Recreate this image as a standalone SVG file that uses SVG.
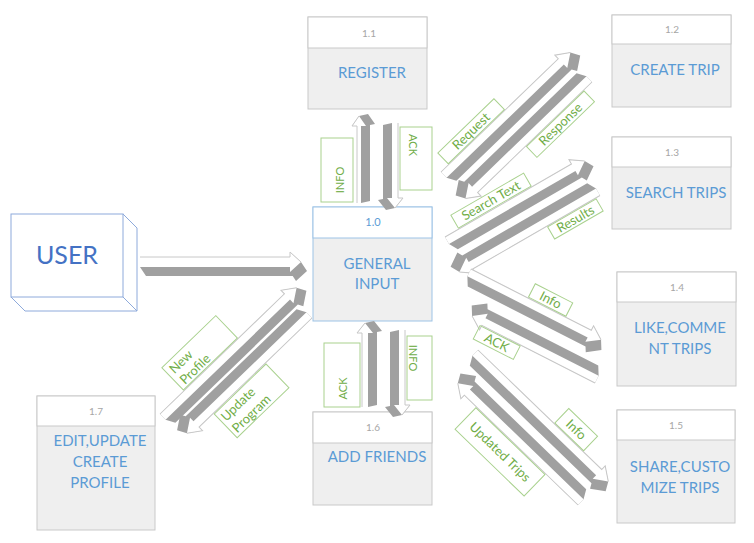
<svg xmlns="http://www.w3.org/2000/svg" width="754" height="543" viewBox="0 0 754 543">
<style>
text{font-family:Lato,'Liberation Sans',sans-serif}
.bx{fill:#efefef;stroke:#c9c9c9;stroke-width:1}
.hd{fill:#fff;stroke:#c9c9c9;stroke-width:1}
.bxb{fill:#efefef;stroke:#9dc3e6;stroke-width:1}
.hdb{fill:#fff;stroke:#9dc3e6;stroke-width:1}
.num{font-size:10px;fill:#a6a6a6;text-anchor:middle}
.t{font-size:15px;fill:#5b9bd5;text-anchor:middle}
.ag{fill:#a0a0a0}
.af{fill:#fff}
.al{fill:none;stroke:#c8c8c8;stroke-width:1}
.lb{fill:none;stroke:#a9d18e;stroke-width:1}
.lt{font-size:13px;fill:#70ad47;text-anchor:middle}
.ls{font-size:13px;fill:#70ad47;text-anchor:start}
.lv{font-size:11px;fill:#70ad47;text-anchor:middle}
</style>
<rect width="754" height="543" fill="#fff"/>

<g id="user">
<rect x="11" y="214" width="112" height="83" fill="#fff" stroke="#8eaadb"/>
<path d="M123,214 L137,228 V311 H25 L11,297 M123,297 L137,311" fill="none" stroke="#8eaadb"/>
<text x="67" y="264" font-size="25" fill="#4472c4" text-anchor="middle">USER</text>
</g>

<g id="n10">
<rect class="bxb" x="313" y="207" width="119" height="114"/>
<rect class="hdb" x="313" y="207" width="119" height="31"/>
<text x="373" y="226" font-size="11" fill="#5b9bd5" text-anchor="middle">1.0</text>
<text class="t" x="377" y="269">GENERAL</text>
<text class="t" x="377" y="289">INPUT</text>
</g>

<g id="n11">
<rect class="bx" x="308" y="17" width="119" height="92"/>
<rect class="hd" x="308" y="17" width="119" height="31"/>
<text class="num" x="369" y="36.5">1.1</text>
<text class="t" x="372" y="78">REGISTER</text>
</g>

<g id="n12">
<rect class="bx" x="612" y="15" width="119" height="92"/>
<rect class="hd" x="612" y="15" width="119" height="29"/>
<text class="num" x="672" y="32.5">1.2</text>
<text class="t" x="675" y="75">CREATE TRIP</text>
</g>

<g id="n13">
<rect class="bx" x="612" y="137" width="119" height="92"/>
<rect class="hd" x="612" y="137" width="119" height="30"/>
<text class="num" x="672" y="156">1.3</text>
<text class="t" x="676" y="198">SEARCH TRIPS</text>
</g>

<g id="n14">
<rect class="bx" x="617" y="272" width="119" height="114"/>
<rect class="hd" x="617" y="272" width="119" height="30"/>
<text class="num" x="677" y="290.5">1.4</text>
<text class="t" x="680" y="333">LIKE,COMME</text>
<text class="t" x="680" y="354">NT TRIPS</text>
</g>

<g id="n15">
<rect class="bx" x="617" y="410" width="118" height="113"/>
<rect class="hd" x="617" y="410" width="118" height="30"/>
<text class="num" x="676" y="428.5">1.5</text>
<text class="t" x="680" y="471.5">SHARE,CUSTO</text>
<text class="t" x="680" y="492.5">MIZE TRIPS</text>
</g>

<g id="n16">
<rect class="bx" x="313" y="412" width="119" height="93"/>
<rect class="hd" x="313" y="412" width="119" height="31"/>
<text class="num" x="373" y="431">1.6</text>
<text class="t" x="377" y="462">ADD FRIENDS</text>
</g>

<g id="n17">
<rect class="bx" x="37" y="396" width="118" height="134"/>
<rect class="hd" x="37" y="396" width="118" height="30"/>
<text class="num" x="96" y="415">1.7</text>
<text class="t" x="100" y="445.5">EDIT,UPDATE</text>
<text class="t" x="100" y="466.5">CREATE</text>
<text class="t" x="100" y="487.5">PROFILE</text>
</g>

<g id="connectors">
<g transform="translate(140,257)"><path class="ag" d="M0,0 H150 V-5 L161,5 L167,14 L156,24 L152.7,19 H6 L0,10 Z"/><path class="af" d="M0,0 H150 V-5 L161,5 L150,15 V10 H0 Z"/><path class="al" d="M0,0 H150 V-5 L161,5"/></g>

<g transform="translate(357,203) rotate(-90)"><path class="ag" d="M0,0 H77 V-5 L87,2 L89,11 L79,18 L77.9,13 H2 L0,4 Z"/><path class="af" d="M0,0 H77 V-5 L87,2 L77,9 V4 H0 Z"/><path class="al" d="M0,0 H77 V-5 L87,2"/></g>
<g transform="translate(398,123) rotate(90)"><path class="ag" d="M0,0 H75 V-5 L85,3 L87,12 L77,20 L75.9,15 H2 L0,6 Z"/><path class="af" d="M0,0 H75 V-5 L85,3 L75,11 V6 H0 Z"/><path class="al" d="M0,0 H75 V-5 L85,3"/></g>
<g transform="translate(362,407) rotate(-90)"><path class="ag" d="M0,0 H74 V-5 L84,3 L86,12 L76,20 L74.9,15 H2 L0,6 Z"/><path class="af" d="M0,0 H74 V-5 L84,3 L74,11 V6 H0 Z"/><path class="al" d="M0,0 H74 V-5 L84,3"/></g>
<g transform="translate(405,330) rotate(90)"><path class="ag" d="M0,0 H75 V-5 L85,3 L87,12 L77,20 L75.9,15 H2 L0,6 Z"/><path class="af" d="M0,0 H75 V-5 L85,3 L75,11 V6 H0 Z"/><path class="al" d="M0,0 H75 V-5 L85,3"/></g>

<g transform="translate(441,172) rotate(-44)"><path class="ag" d="M0,0 H163 V-5 L176,4 L181,13 L168,22 L165.2,17 H5 L0,8 Z"/><path class="af" d="M0,0 H163 V-5 L176,4 L163,13 V8 H0 Z"/><path class="al" d="M0,0 H163 V-5 L176,4"/></g>
<g transform="translate(592,82) rotate(136)"><path class="ag" d="M0,0 H159 V-5 L172,4 L177,13 L164,22 L161.2,17 H5 L0,8 Z"/><path class="af" d="M0,0 H159 V-5 L172,4 L159,13 V8 H0 Z"/><path class="al" d="M0,0 H159 V-5 L172,4"/></g>
<g transform="translate(445,237) rotate(-30)"><path class="ag" d="M0,0 H146 V-5 L159,4 L164,13 L151,22 L148.2,17 H5 L0,8 Z"/><path class="af" d="M0,0 H146 V-5 L159,4 L146,13 V8 H0 Z"/><path class="al" d="M0,0 H146 V-5 L159,4"/></g>
<g transform="translate(600,195.5) rotate(150)"><path class="ag" d="M0,0 H147 V-5 L160,4 L165,13 L152,22 L149.2,17 H5 L0,8 Z"/><path class="af" d="M0,0 H147 V-5 L160,4 L147,13 V8 H0 Z"/><path class="al" d="M0,0 H147 V-5 L160,4"/></g>
<g transform="translate(471,269) rotate(27)"><path class="ag" d="M0,0 H135 V-5 L148,4 L153,13 L140,22 L137.2,17 H5 L0,8 Z"/><path class="af" d="M0,0 H135 V-5 L148,4 L135,13 V8 H0 Z"/><path class="al" d="M0,0 H135 V-5 L148,4"/></g>
<g transform="translate(595,383) rotate(207)"><path class="ag" d="M0,0 H127 V-5 L140,4 L145,13 L132,22 L129.2,17 H5 L0,8 Z"/><path class="af" d="M0,0 H127 V-5 L140,4 L127,13 V8 H0 Z"/><path class="al" d="M0,0 H127 V-5 L140,4"/></g>
<g transform="translate(478,350) rotate(44)"><path class="ag" d="M0,0 H172 V-5 L185,4 L190,13 L177,22 L174.2,17 H5 L0,8 Z"/><path class="af" d="M0,0 H172 V-5 L185,4 L172,13 V8 H0 Z"/><path class="al" d="M0,0 H172 V-5 L185,4"/></g>
<g transform="translate(578,505) rotate(224)"><path class="ag" d="M0,0 H158 V-5 L171,4 L176,13 L163,22 L160.2,17 H5 L0,8 Z"/><path class="af" d="M0,0 H158 V-5 L171,4 L158,13 V8 H0 Z"/><path class="al" d="M0,0 H158 V-5 L171,4"/></g>
<g transform="translate(160,414) rotate(-44)"><path class="ag" d="M0,0 H173 V-5 L186,4 L191,13 L178,22 L175.2,17 H5 L0,8 Z"/><path class="af" d="M0,0 H173 V-5 L186,4 L173,13 V8 H0 Z"/><path class="al" d="M0,0 H173 V-5 L186,4"/></g>
<g transform="translate(312,318) rotate(136)"><path class="ag" d="M0,0 H157 V-5 L170,4 L175,13 L162,22 L159.2,17 H5 L0,8 Z"/><path class="af" d="M0,0 H157 V-5 L170,4 L157,13 V8 H0 Z"/><path class="al" d="M0,0 H157 V-5 L170,4"/></g>
</g>

<g id="connector-labels">
<rect class="lb" x="321" y="138" width="32" height="64"/>
<text class="lv" transform="translate(339.5,180) rotate(-90)" y="4">INFO</text>
<rect class="lb" x="400" y="127" width="32" height="63"/>
<text class="lv" transform="translate(412.5,145) rotate(90)" y="4">ACK</text>
<rect class="lb" x="324" y="343" width="36" height="64"/>
<text class="lv" transform="translate(343,388.5) rotate(-90)" y="4">ACK</text>
<rect class="lb" x="407" y="336" width="25" height="64"/>
<text class="lv" transform="translate(413.3,358) rotate(90)" y="4">INFO</text>

<g transform="translate(471.1,131.2) rotate(-44)"><rect class="lb" x="-39" y="-7.5" width="78" height="15"/><text class="lt" y="4.5">Request</text></g>
<g transform="translate(560.5,124.2) rotate(-44)"><rect class="lb" x="-40" y="-7.5" width="80" height="15"/><text class="lt" y="4.5">Response</text></g>
<g transform="translate(491,200.6) rotate(-30)"><rect class="lb" x="-42" y="-7.5" width="84" height="15"/><text class="lt" y="4.5">Search Text</text></g>
<g transform="translate(575.4,218.9) rotate(-30)"><rect class="lb" x="-28" y="-7" width="56" height="14"/><text class="lt" y="4.5">Results</text></g>
<g transform="translate(550.6,300) rotate(27)"><rect class="lb" x="-21" y="-7.5" width="42" height="15"/><text class="lt" y="4.5">Info</text></g>
<g transform="translate(496.7,342.5) rotate(27)"><rect class="lb" x="-22.5" y="-7.5" width="45" height="15"/><text class="lt" y="4.5">ACK</text></g>
<g transform="translate(576.2,429.6) rotate(44)"><rect class="lb" x="-20" y="-10" width="40" height="20"/><text class="lt" y="4.5">Info</text></g>
<g transform="translate(500,451.9) rotate(44)"><rect class="lb" x="-48" y="-15" width="96" height="30"/><text class="lt" y="4.5">Updated Trips</text></g>
<g transform="translate(199.6,352.8) rotate(-44)"><rect class="lb" x="-37.5" y="-15.5" width="75" height="31"/><text class="ls" x="-33" y="-2">New</text><text class="ls" x="-33" y="13">Profile</text></g>
<g transform="translate(251.6,400.8) rotate(-44)"><rect class="lb" x="-36" y="-16.5" width="72" height="33"/><text class="ls" x="-33" y="-2.5">Update</text><text class="ls" x="-33" y="13.5">Program</text></g>
</g>
</svg>
